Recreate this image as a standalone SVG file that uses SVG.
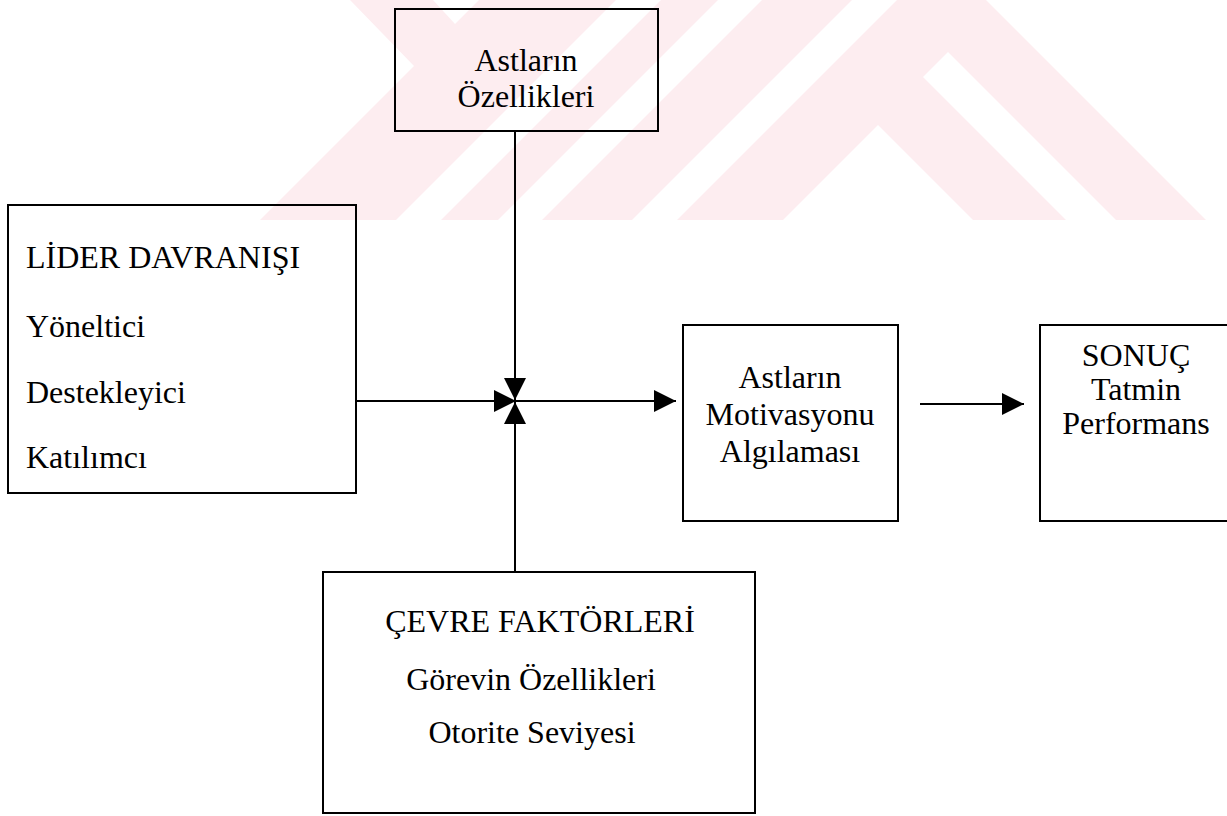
<svg xmlns="http://www.w3.org/2000/svg" width="1227" height="816" viewBox="0 0 1227 816">
<defs>
<marker id="ah" markerUnits="userSpaceOnUse" markerWidth="22" markerHeight="22" viewBox="0 0 22 22" refX="22" refY="11" orient="auto">
<path d="M0,0 L22,11 L0,22 Z" fill="#000"/>
</marker>
<style>
.box{fill:none;stroke:#000;stroke-width:2}
.t{font-family:"Liberation Serif","Times New Roman",serif;font-size:32px;fill:#000}
.c{text-anchor:middle}
.ln{fill:none;stroke:#000;stroke-width:2;marker-end:url(#ah)}
.wm{fill:#fdedf0}
.wh{fill:#fff}
</style>
</defs>
<rect width="1227" height="816" fill="#fff"/>
<g id="watermark">
<polygon class="wm" points="350,0 986,0 1206,220 260,220 414,66"/>
<polygon class="wh" points="433,0 479,0 455,24"/>
<polygon class="wh" points="616,0 661,0 441,220 396,220"/>
<polygon class="wh" points="718,0 762,0 542,220 498,220"/>
<polygon class="wh" points="852,0 897,0 677,220 632,220"/>
<polygon class="wh" points="948,52 1116,220 1066,220 923,77"/>
<polygon class="wh" points="878,125 973,220 783,220"/>
</g>
<g id="connectors">
<line class="ln" x1="356" y1="401" x2="516" y2="401"/>
<line class="ln" x1="515" y1="131" x2="515" y2="400"/>
<line class="ln" x1="515" y1="572" x2="515" y2="402"/>
<line class="ln" x1="515" y1="401" x2="676" y2="401"/>
<line class="ln" x1="920" y1="404" x2="1024" y2="404"/>
</g>
<g id="astlarin-ozellikleri">
<rect class="box" x="395" y="9" width="263" height="122"/>
<text class="t c" x="526" y="71">Astların</text>
<text class="t c" x="526" y="107">Özellikleri</text>
</g>
<g id="lider-davranisi">
<rect class="box" x="8" y="205" width="348" height="288"/>
<text class="t" x="26" y="268">LİDER DAVRANIŞI</text>
<text class="t" x="26" y="337">Yöneltici</text>
<text class="t" x="26" y="403">Destekleyici</text>
<text class="t" x="26" y="468">Katılımcı</text>
</g>
<g id="motivasyon">
<rect class="box" x="683" y="325" width="215" height="196"/>
<text class="t c" x="790" y="388">Astların</text>
<text class="t c" x="790" y="425">Motivasyonu</text>
<text class="t c" x="790" y="462">Algılaması</text>
</g>
<g id="sonuc">
<rect class="box" x="1040" y="325" width="200" height="196"/>
<text class="t c" x="1136" y="366">SONUÇ</text>
<text class="t c" x="1136" y="400">Tatmin</text>
<text class="t c" x="1136" y="434">Performans</text>
</g>
<g id="cevre-faktorleri">
<rect class="box" x="323" y="572" width="432" height="241"/>
<text class="t c" x="540" y="632">ÇEVRE FAKTÖRLERİ</text>
<text class="t c" x="531" y="690">Görevin Özellikleri</text>
<text class="t c" x="532" y="743">Otorite Seviyesi</text>
</g>
</svg>
